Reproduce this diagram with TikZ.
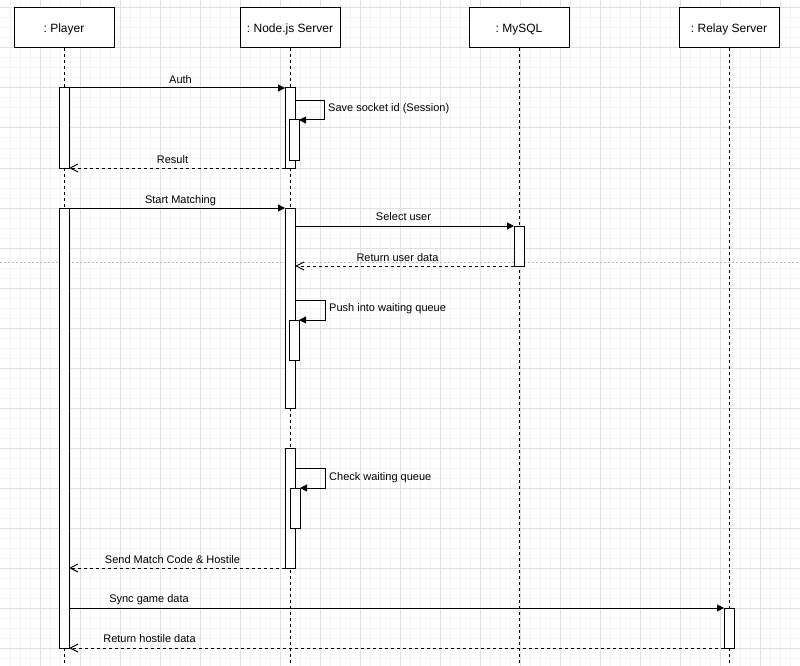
\documentclass[tikz,border=0pt]{standalone}
\usepackage{fontspec}
\setmainfont{Liberation Sans}
\usetikzlibrary{arrows.meta}
\definecolor{gminor}{HTML}{F4F4F4}
\definecolor{gmajor}{HTML}{E0E0E0}
\definecolor{pbreak}{HTML}{BDBDBD}
\tikzset{
  head/.style={draw, fill=white, line width=1pt, minimum width=100pt, minimum height=40pt,
    inner sep=0pt, outer sep=0pt, text height=8.6pt, text depth=0pt,
    font=\fontsize{12}{14}\selectfont\frenchspacing},
  act/.style={draw, fill=white, line width=1pt, minimum width=10pt, inner sep=0pt,
    outer sep=0pt, anchor=north west},
  life/.style={line width=1pt, dash pattern=on 3pt off 3pt},
  msg/.style={line width=1pt, -{Triangle[length=7pt,width=7pt]}},
  ret/.style={line width=1pt, dash pattern=on 3pt off 3pt, -{Straight Barb[length=8pt,width=8pt]}},
  lbl/.style={font=\fontsize{11}{13}\selectfont\frenchspacing, inner sep=0pt, anchor=base},
  lbll/.style={lbl, anchor=base west},
}
\begin{document}
\begin{tikzpicture}[x=1pt,y=-1pt]
\useasboundingbox (0,0) rectangle (800,666);
\fill[white] (0,0) rectangle (800,666);
% grid
\foreach \x in {10,20,...,790} \draw[gminor, line width=1pt] (\x,0) -- (\x,666);
\foreach \y in {8,18,...,658} \draw[gminor, line width=1pt] (0,\y) -- (800,\y);
\foreach \x in {40,80,...,760} \draw[gmajor, line width=1pt] (\x,0) -- (\x,666);
\foreach \y in {8,48,...,648} \draw[gmajor, line width=1pt] (0,\y) -- (800,\y);
% page break
\draw[pbreak, line width=1pt, dash pattern=on 2pt off 2pt] (0,262) -- (800,262);

% heads
\node[head] (player) at (64,28) {: Player};
\node[head] (node) at (290,28) {: Node.js Server};
\node[head] (mysql) at (519,28) {: MySQL};
\node[head] (relay) at (729,28) {: Relay Server};

% lifelines
\coordinate (playerend) at (64,666);
\coordinate (nodeend) at (290,666);
\coordinate (mysqlend) at (519,666);
\coordinate (relayend) at (729,666);
\draw[life] (player.south) -- (playerend);
\draw[life] (node.south) -- (nodeend);
\draw[life] (mysql.south) -- (mysqlend);
\draw[life] (relay.south) -- (relayend);

% activations
\node[act, minimum height=80pt] (pa1) at (59,88) {};
\node[act, minimum height=440pt] (pa2) at (59,208) {};
\node[act, minimum height=80pt] (na1) at (285,88) {};
\node[act, minimum height=40pt] (nn1) at (289,120) {};
\node[act, minimum height=200pt] (na2) at (285,208) {};
\node[act, minimum height=40pt] (nn2) at (289,320) {};
\node[act, minimum height=120pt] (na3) at (285,448) {};
\node[act, minimum height=40pt] (nn3) at (290,488) {};
\node[act, minimum height=40pt] (ma1) at (514,226) {};
\node[act, minimum height=40pt] (ra1) at (724,608) {};

% loop corner coordinates
\coordinate (l1s) at (295,100.5);
\coordinate (l1a) at (324.5,100.5);
\coordinate (l2s) at (295,300);
\coordinate (l2a) at (325,300);
\coordinate (l3s) at (295,468);
\coordinate (l3a) at (325,468);

% messages
\draw[msg] (pa1.north east) -- (na1.north west);
\node[lbl] at (180.5,83.3) {Auth};
\draw[msg] (l1s) -- (l1a) |- (nn1.north east);
\node[lbll] at (328,111.7) {Save socket id (Session)};
\draw[ret] (na1.south west) -- (pa1.south east);
\node[lbl] at (172.5,163.3) {Result};

\draw[msg] (pa2.north east) -- (na2.north west);
\node[lbl] at (180.5,203.3) {Start Matching};
\draw[msg] (na2.east |- ma1.north west) -- (ma1.north west);
\node[lbl] at (403.5,220.7) {Select user};
\draw[ret] (ma1.south west) -- (na2.east |- ma1.south west);
\node[lbl] at (397.5,261) {Return user data};
\draw[msg] (l2s) -- (l2a) |- (nn2.north east);
\node[lbll] at (329,311.5) {Push into waiting queue};

\draw[msg] (l3s) -- (l3a) |- (nn3.north east);
\node[lbll] at (329,480) {Check waiting queue};
\draw[ret] (na3.south west) -- (pa2.east |- na3.south west);
\node[lbl] at (172.5,563) {Send Match Code \& Hostile};
\draw[msg] (pa2.east |- ra1.north west) -- (ra1.north west);
\node[lbl] at (149,602.3) {Sync game data};
\draw[ret] (ra1.south west) -- (pa2.south east);
\node[lbl] at (149.5,642.3) {Return hostile data};
\end{tikzpicture}
\end{document}
